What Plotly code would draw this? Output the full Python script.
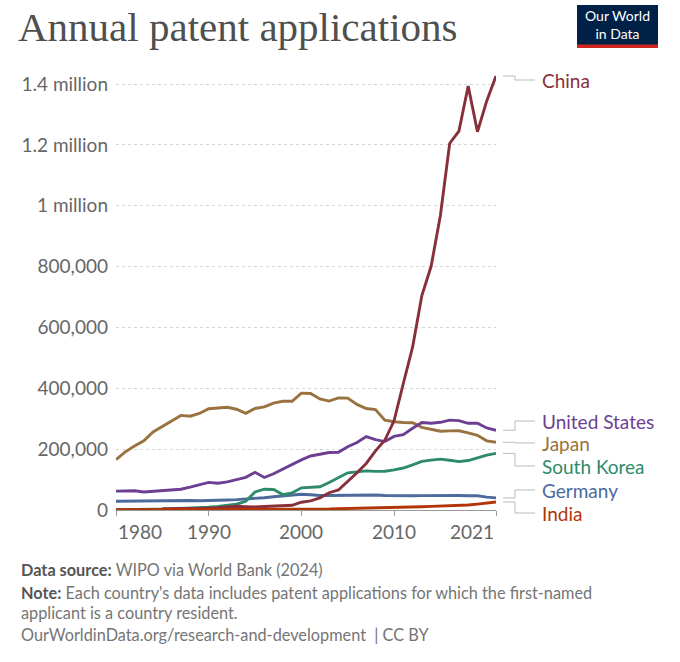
import plotly.graph_objects as go

years = list(range(1980, 2022))

china_years = list(range(1985, 2022))
china = [4065, 3494, 4084, 4780, 5319, 5832, 7372, 10003, 12084, 11191,
         10011, 11471, 12672, 13726, 15596, 25592, 30038, 39806, 56769, 65786,
         93485, 122318, 153060, 194579, 229096, 293066, 415829, 535313, 704936, 801135,
         968252, 1204981, 1245709, 1393815, 1243568, 1344817, 1426644]

united_states = [62098, 62404, 63316, 59391, 61841, 63673, 65195, 68315, 75192, 82370,
                 90643, 87955, 92425, 99955, 107233, 123962, 106892, 119214, 134733, 149251,
                 164795, 177511, 184245, 188941, 189536, 207867, 221784, 241347, 231588, 224912,
                 241977, 247750, 268782, 287831, 285096, 288335, 295327, 293904, 285095, 285113,
                 269586, 262244]

japan = [165730, 191020, 210644, 227708, 256740, 274348, 291006, 310908, 308147, 317353,
         332952, 335933, 337514, 331228, 317678, 333770, 339150, 351487, 357379, 357531,
         384201, 382815, 365204, 358184, 368416, 367960, 347060, 333498, 330110, 295315,
         290081, 287580, 287013, 271731, 265959, 258839, 260244, 260290, 253630, 245372,
         227348, 222452]

south_korea = [1241, 1319, 1556, 1599, 1977, 2703, 3641, 4871, 5696, 7090,
               9082, 11597, 14316, 18915, 28564, 59236, 68446, 67359, 50596, 55970,
               72831, 73714, 76570, 90313, 105250, 122188, 125476, 128701, 127114, 127316,
               131805, 138034, 148136, 159978, 164073, 167275, 163424, 159084, 162561, 171603,
               180477, 186245]

germany = [29000, 29500, 30500, 30700, 31500, 32000, 31500, 31500, 31000, 30500,
           30700, 31800, 33000, 34000, 35700, 37200, 40500, 43400, 46400, 49500,
           51700, 50000, 47600, 47800, 48300, 47800, 48000, 47800, 49200, 47900,
           47000, 46900, 46600, 47400, 48100, 47400, 48500, 47800, 46600, 46600,
           42300, 39800]

india = [1000, 1000, 1000, 1100, 1000, 1050, 1000, 1000, 1100, 1200,
         1200, 1300, 1300, 1300, 1300, 1550, 1660, 1900, 1950, 2200,
         2200, 2400, 2700, 3400, 4200, 4700, 5300, 6000, 6200, 7300,
         8853, 8841, 9553, 10669, 12040, 12579, 13219, 15550, 16289, 19454,
         23141, 26267]

y_ticks = [0, 200000, 400000, 600000, 800000, 1000000, 1200000, 1400000]
y_tick_text = ["0", "200,000", "400,000", "600,000", "800,000", "1 million", "1.2 million", "1.4 million"]
x_ticks = [1980, 1990, 2000, 2010, 2021]
y_max = 1430000

W, H = 680, 662
PL, PR, PT, PB = 116, 496, 75, 510   # plot area in px


def xp(px):
    return (px - PL) / (PR - PL)


def yp(py):
    return (PB - py) / (PB - PT)


# name, x, y, colour, label centre (px)
series = [
    ("Germany", years, germany, "#4c6a9c", 490),
    ("South Korea", years, south_korea, "#2d8a6b", 466),
    ("Japan", years, japan, "#9a7240", 443),
    ("United States", years, united_states, "#6d3e91", 421),
    ("China", china_years, china, "#883039", 80),
    ("India", years, india, "#b13507", 513),
]

fig = go.Figure()
for name, xs, ys, col, _ in series:
    fig.add_trace(go.Scatter(x=xs, y=ys, mode="lines", name=name,
                             line=dict(color=col, width=2.9), cliponaxis=False))

annotations = []
shapes = []
for name, xs, ys, col, lab_px in series:
    end_p = ys[-1] / y_max
    lab_p = yp(lab_px)
    annotations.append(dict(x=xp(540), y=lab_p, xref="paper", yref="paper", text=name,
                            showarrow=False, xanchor="left", yanchor="middle",
                            font=dict(family="Lato", size=19, color=col)))
    path = (f"M {xp(503)},{end_p} L {xp(515)},{end_p} "
            f"L {xp(515)},{lab_p} L {xp(535)},{lab_p}")
    shapes.append(dict(type="path", path=path, xref="paper", yref="paper",
                       line=dict(color="#bbbbbb", width=1)))

# x tick labels, first left-aligned and last right-aligned like the original
for i, yr in enumerate(x_ticks):
    anchor = "left" if i == 0 else ("right" if i == len(x_ticks) - 1 else "center")
    annotations.append(dict(x=yr, y=yp(518), xref="x", yref="paper", text=str(yr),
                            showarrow=False, xanchor=anchor, yanchor="top",
                            font=dict(family="Lato", size=19, color="#666666")))

footer = [
    ("<span style='color:#555'><b>Data source:</b></span> WIPO via World Bank (2024)", 569),
    ("<span style='color:#555'><b>Note:</b></span> Each country's data includes patent applications for which the first-named", 592),
    ("applicant is a country resident.", 612),
    ("OurWorldinData.org/research-and-development  | CC BY", 634),
]
for txt, ypx in footer:
    annotations.append(dict(x=xp(19), y=yp(ypx), xref="paper", yref="paper",
                            text=txt, showarrow=False, xanchor="left", yanchor="middle",
                            font=dict(family="Lato", size=16.3, color="#757575")))

# logo
shapes.append(dict(type="rect", xref="paper", yref="paper", x0=xp(577), x1=xp(658),
                   y0=yp(48), y1=yp(5), fillcolor="#002147", line=dict(width=0)))
shapes.append(dict(type="rect", xref="paper", yref="paper", x0=xp(577), x1=xp(658),
                   y0=yp(48), y1=yp(44.5), fillcolor="#ce261e", line=dict(width=0)))
annotations.append(dict(x=xp(617.5), y=yp(25), xref="paper", yref="paper",
                        text="Our World<br>in Data", showarrow=False, xanchor="center", yanchor="middle",
                        font=dict(family="Lato", size=14, color="white")))

fig.update_layout(
    width=W, height=H,
    margin=dict(l=PL, r=W - PR, t=PT, b=H - PB),
    paper_bgcolor="white", plot_bgcolor="white",
    showlegend=False,
    title=dict(text="Annual patent applications", xref="container", yref="container",
               x=18 / W, y=1 - 27 / H, xanchor="left", yanchor="middle",
               font=dict(family="Liberation Serif", size=41, color="#4f4f4f")),
    xaxis=dict(range=[1980, 2021], tickvals=x_ticks, showticklabels=False,
               showgrid=False, zeroline=False, showline=True, linecolor="#999999",
               ticks="outside", ticklen=5, tickcolor="#999999"),
    yaxis=dict(range=[0, y_max], tickvals=y_ticks, ticktext=y_tick_text,
               showgrid=True, gridcolor="#d6d6d6", griddash="dot", gridwidth=1,
               zeroline=False, showline=False, ticks="", ticklabelstandoff=7,
               tickfont=dict(family="Lato", size=19, color="#666666")),
    annotations=annotations,
    shapes=shapes,
)

# drop the browser's default 8px body margin so the figure fills the window
fig.write_html("out.html", config={"displayModeBar": False},
               post_script="document.body.style.margin='0px';")
